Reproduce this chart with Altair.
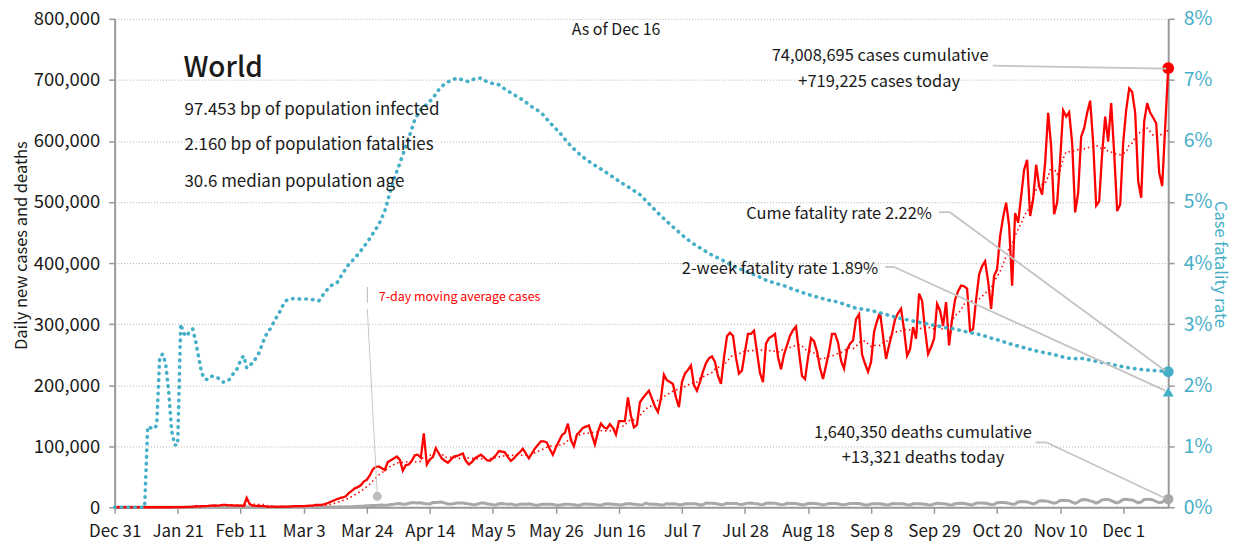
import altair as alt
import pandas as pd

FONT = "'Noto Sans CJK SC', 'Liberation Sans', sans-serif"
RED = "#ff0000"
TEAL = "#45afc8"
GRAY = "#a8a8a8"
INK = "#1a1a1a"

# ---- data (day 0 = Dec 31, 2019; day 351 = Dec 16, 2020) ----
tick_labels = ["Dec 31", "Jan 21", "Feb 11", "Mar 3", "Mar 24", "Apr 14", "May 5", "May 26",
               "Jun 16", "Jul 7", "Jul 28", "Aug 18", "Sep 8", "Sep 29", "Oct 20", "Nov 10", "Dec 1"]

cases = [
    27, 0, 0, 17, 0, 15, 0, 0, 0, 0, 0, 0, 0, 1, 1, 0, 4, 17, 136, 19, 151,
    140, 97, 266, 453, 673, 797, 1767, 1480, 1755, 2005, 2127, 2603, 2836, 2830, 3239, 3917, 3721, 3181, 3419, 2611, 2983, 2490, 2028,
    15141,
    5090, 2660, 2108, 2053, 1893, 1752, 500, 1000, 1100, 550, 900, 850, 1000, 1150, 1500, 1800, 2000, 2000, 2000, 2400, 2600, 2800, 3800, 3900, 3800,
    5200, 7000, 9000, 11000, 13000, 15000, 16000, 18000, 23000, 27000, 31000, 33000, 36000, 42000,
    45000, 52000, 62000, 66000, 67000, 64000, 61000, 74000, 77000, 80000, 83000, 78000, 60000, 69000, 70000, 76000,
    85000, 86000, 81000, 121000, 70000, 78000, 82000, 97000, 88000, 80000, 76000, 73000, 78000, 83000, 84000, 86000, 88000, 76000, 70000, 74000,
    80000, 83000, 86000, 82000, 77000, 76000, 80000, 85000, 92000, 91000, 90000, 82000, 76000, 80000, 86000, 90000, 96000, 88000, 80000, 88000,
    96000, 102000, 108000, 108000, 106000, 95000, 86000, 98000, 108000, 118000, 122000, 137000, 110000, 100000, 119000, 124000, 130000, 132000, 134000, 118000,
    103000, 123000, 137000, 131000, 129000, 136000, 130000, 119000, 141000, 141000, 141000, 180000, 150000, 131000, 135000, 172000, 179000, 185000, 191000, 178000,
    165000, 156000, 178000, 217000, 208000, 205000, 202000, 180000, 164000, 205000, 219000, 225000, 232000, 200000, 191000, 205000, 222000, 236000, 244000, 247000,
    238000, 215000, 202000, 245000, 280000, 286000, 281000, 245000, 219000, 224000, 255000, 284000, 284000, 289000, 254000, 220000, 205000, 268000, 277000, 280000,
    284000, 246000, 226000, 250000, 265000, 281000, 290000, 296000, 254000, 215000, 210000, 245000, 277000, 272000, 255000, 228000, 210000, 232000, 255000, 284000,
    284000, 270000, 240000, 227000, 258000, 268000, 273000, 308000, 316000, 250000, 235000, 222000, 238000, 287000, 305000, 319000, 280000, 243000, 265000, 285000,
    308000, 318000, 325000, 290000, 248000, 259000, 295000, 276000, 350000, 338000, 290000, 251000, 262000, 276000, 333000, 322000, 297000, 336000, 265000, 308000,
    340000, 354000, 363000, 362000, 358000, 289000, 292000, 340000, 381000, 395000, 403000, 370000, 325000, 379000, 390000, 444000, 475000, 499000, 461000, 363000,
    482000, 466000, 509000, 553000, 569000, 477000, 504000, 561000, 526000, 512000, 564000, 646000, 591000, 480000, 499000, 569000, 650000, 640000, 647000, 597000,
    483000, 515000, 607000, 621000, 646000, 666000, 597000, 494000, 501000, 580000, 640000, 599000, 662000, 580000, 485000, 496000, 597000, 651000, 686000, 680000,
    646000, 534000, 507000, 632000, 662000, 646000, 638000, 629000, 548000, 526000, 624000, 719225,
]

deaths = [
    0, 0, 0, 0, 0, 0, 0, 0, 0, 0, 0, 1, 0, 0, 0, 0, 0, 0, 0, 0, 3,
    3, 8, 9, 16, 15, 15, 24, 26, 26, 38, 43, 46, 45, 57, 64, 66, 73, 73, 86, 89, 97, 108, 97,
    254,
    121, 143, 142, 105, 98, 139, 115, 118, 109, 97, 150, 71, 52, 29, 44, 37, 58, 67, 71, 72, 85, 100, 104, 96, 228,
    200, 280, 330, 420, 390, 700, 520, 830, 970, 980, 1350, 1600, 1700, 1900,
    2400, 2500, 2700, 3000, 3400, 3500, 3400, 3400, 4500, 5000, 5900, 6100, 5000, 4800, 6500, 7200,
    7500, 6900, 7200, 6100, 5600, 5400, 7700, 7600, 8300, 8600, 6700, 5500, 5400, 5700, 7000, 6800, 6800, 6300, 5500, 4400,
    4200, 5400, 6800, 6800, 5700, 4900, 4100, 3700, 5600, 6300, 5500, 5100, 5400, 4000, 3300, 5000, 5500, 5100, 5600, 4600,
    3700, 3400, 4600, 4800, 5000, 5100, 4400, 3500, 3100, 4000, 5000, 4800, 4700, 4200, 3200, 3200, 4800, 5500, 5100, 5000,
    4300, 3700, 3400, 4900, 5600, 5400, 5000, 4600, 4100, 3600, 5200, 5600, 5600, 5000, 4500, 3900, 4300, 6800, 5100, 5000,
    4800, 4400, 3700, 4100, 5800, 5500, 5600, 5200, 4100, 4000, 5600, 5700, 5600, 5700, 5400, 3900, 4200, 7000, 6400, 6400,
    6100, 5400, 4200, 4700, 6700, 6300, 6300, 6300, 5000, 4600, 5700, 6700, 6800, 6200, 5900, 4600, 4200, 6500, 6900, 6400,
    6400, 5400, 4300, 4300, 6500, 6200, 6100, 6000, 5000, 4100, 4200, 6300, 6400, 6100, 5800, 5000, 3900, 4700, 6300, 6300,
    6000, 5700, 4500, 4000, 4900, 6300, 6100, 6200, 6000, 4900, 3800, 3700, 5500, 5700, 5700, 5600, 5000, 4100, 3800, 6000,
    5900, 5700, 5700, 5200, 4000, 3700, 5700, 5900, 5700, 5500, 5000, 4000, 3800, 5400, 6400, 6100, 5700, 5200, 4100, 3800,
    5700, 6100, 6600, 6000, 5200, 4100, 4200, 6600, 7100, 7100, 6500, 5700, 4100, 4700, 7300, 7600, 7800, 7400, 6300, 5100,
    5400, 8700, 9300, 9200, 8700, 7200, 5600, 7300, 10200, 10700, 10300, 9600, 7900, 6600, 7900, 11200, 11500, 11000, 10800, 8500,
    6400, 8500, 12000, 12700, 12100, 10400, 9300, 6800, 8800, 12100, 12800, 12800, 10700, 8600, 7200, 9300, 12700, 13000, 12400, 12000,
    9600, 7300, 8600, 12700, 12900, 13000, 11800, 9400, 7300, 8300, 12600, 13321,
]

cfr_day = [0, 2, 4, 6, 8, 10, 11, 12, 13, 14, 15, 16, 17, 18, 19, 20, 21, 22, 23, 24, 25, 26, 27, 28, 29, 30,
           31, 32, 33, 34, 35, 36, 37, 38, 39, 40, 41, 42, 43, 44, 45, 46, 47, 48, 49, 50, 51, 52, 53, 54,
           55, 56, 57, 58, 60, 62, 64, 66, 68, 70, 72, 74, 76, 78, 80, 82, 84, 86, 88, 90, 92, 94, 96, 98,
           100, 102, 104, 106, 108, 110, 112, 114, 116, 118, 120, 122, 124, 126, 128, 130, 133, 136, 139,
           142, 145, 148, 151, 154, 157, 160, 163, 166, 169, 172, 175, 178, 181, 184, 187, 190, 193, 196,
           199, 202, 205, 208, 211, 214, 217, 220, 223, 226, 229, 232, 235, 238, 241, 244, 247, 250, 253,
           256, 259, 262, 265, 268, 271, 274, 277, 280, 283, 286, 289, 292, 295, 298, 301, 304, 307, 310,
           313, 316, 319, 322, 325, 328, 331, 334, 337, 340, 343, 346, 349, 351]
cfr_pct = [0, 0, 0, 0, 0, 0, 1.32, 1.30, 1.28, 1.34, 2.46, 2.51, 2.35, 1.90, 1.25, 1.02, 1.02, 3.00, 2.85, 2.80, 2.88, 2.92, 2.72, 2.45, 2.20, 2.10,
           2.09, 2.14, 2.15, 2.13, 2.10, 2.05, 2.05, 2.08, 2.15, 2.22, 2.28, 2.42, 2.48, 2.28, 2.33, 2.36, 2.44, 2.52, 2.65, 2.78, 2.87, 2.93, 3.03, 3.12,
           3.20, 3.30, 3.38, 3.41, 3.42, 3.41, 3.41, 3.40, 3.38, 3.52, 3.63, 3.67, 3.83, 3.98, 4.08, 4.20, 4.33, 4.48, 4.63, 4.85, 5.20, 5.50, 5.77, 6.05,
           6.35, 6.52, 6.60, 6.70, 6.84, 6.94, 6.99, 7.03, 7.00, 6.97, 7.02, 7.03, 6.97, 6.94, 6.92, 6.85, 6.76, 6.67, 6.56,
           6.47, 6.30, 6.15, 5.97, 5.82, 5.70, 5.60, 5.51, 5.41, 5.31, 5.22, 5.12, 4.97, 4.82, 4.68, 4.55, 4.42, 4.31, 4.22,
           4.13, 4.06, 3.98, 3.91, 3.85, 3.79, 3.72, 3.67, 3.63, 3.57, 3.52, 3.47, 3.43, 3.39, 3.36, 3.31, 3.26, 3.24, 3.21,
           3.17, 3.13, 3.09, 3.06, 3.03, 3.00, 2.97, 2.94, 2.92, 2.88, 2.85, 2.82, 2.77, 2.73, 2.68, 2.64, 2.60, 2.56, 2.53,
           2.50, 2.46, 2.43, 2.44, 2.41, 2.38, 2.35, 2.32, 2.29, 2.27, 2.25, 2.24, 2.23, 2.22]

last_day = 351
two_week_cfr = 1.89

df = pd.DataFrame({"day": list(range(len(cases))), "cases": cases, "deaths": deaths})
cfr_df = pd.DataFrame({"day": cfr_day, "cfr": cfr_pct})
tw_df = pd.DataFrame({"day": [last_day], "cfr": [two_week_cfr]})

label_expr = "[" + ",".join(f"'{l}'" for l in tick_labels) + "][round(datum.value/21)]"

x_enc = alt.X("day:Q", scale=alt.Scale(domain=[0, last_day], nice=False, zero=False),
              axis=alt.Axis(values=list(range(0, 337, 21)), labelExpr=label_expr, title=None, grid=False,
                            labelFontSize=17, labelColor=INK, labelPadding=10, tickSize=6, labelOverlap=False,
                            labelFlush=False, labelFont=FONT,
                            domainColor="#999999", domainWidth=2, tickColor="#999999", tickWidth=1.5))

left_scale = alt.Scale(domain=[0, 800000], nice=False)
left_axis = alt.Axis(values=list(range(0, 800001, 100000)), format=",d", title="Daily new cases and deaths",
                     titleFontSize=16.5, titleFontWeight="normal", titleColor=INK,
                     titleX=-93, titleY=227, titleAngle=270, titleAlign="center", titleBaseline="middle",
                     labelFontSize=18.5, labelColor=INK, labelPadding=9, tickSize=6, labelFont=FONT, titleFont=FONT,
                     grid=True, gridDash=[1, 2], gridColor="#b0b0b0", gridWidth=1,
                     domainColor="#999999", domainWidth=2, tickColor="#999999", tickWidth=1.5)
right_scale = alt.Scale(domain=[0, 8], nice=False)
right_axis = alt.Axis(values=list(range(0, 9)), labelExpr="datum.value + '%'", orient="right",
                      title="Case fatality rate", titleFontSize=16.5, titleFontWeight="normal", titleColor=TEAL,
                      titleX=51, titleY=246, titleAngle=90, titleAlign="center", titleBaseline="middle",
                      labelFontSize=19.5, labelColor=TEAL, labelPadding=9, tickSize=6, grid=False,
                      labelFont=FONT, titleFont=FONT,
                      domainColor="#999999", domainWidth=2, tickColor="#999999", tickWidth=1.5)

base = alt.Chart(df)

deaths_line = base.mark_line(color=GRAY, strokeWidth=3).encode(
    x=x_enc, y=alt.Y("deaths:Q", scale=left_scale, axis=left_axis))
cases_line = base.mark_line(color=RED, strokeWidth=2.3).encode(
    x=x_enc, y=alt.Y("cases:Q", scale=left_scale, axis=left_axis))
ma_line = base.transform_window(ma="mean(cases)", frame=[-6, 0], sort=[{"field": "day"}]).mark_line(
    color=RED, strokeWidth=1.6, strokeDash=[1.5, 3]).encode(
    x=x_enc, y=alt.Y("ma:Q", scale=left_scale, axis=left_axis))
cases_pt = base.transform_filter(f"datum.day == {last_day}").mark_point(
    filled=True, size=140, color=RED, opacity=1).encode(x=x_enc, y=alt.Y("cases:Q", scale=left_scale, axis=left_axis))
deaths_pt = base.transform_filter(f"datum.day == {last_day}").mark_point(
    filled=True, size=110, color=GRAY, opacity=1).encode(x=x_enc, y=alt.Y("deaths:Q", scale=left_scale, axis=left_axis))

left = alt.layer(deaths_line, cases_line, ma_line, cases_pt, deaths_pt)

cfr_line = alt.Chart(cfr_df).mark_line(color=TEAL, strokeWidth=3.6, strokeDash=[0.5, 6.2], strokeCap="round").encode(
    x=x_enc, y=alt.Y("cfr:Q", scale=right_scale, axis=right_axis))
cfr_pt = alt.Chart(cfr_df).transform_filter(f"datum.day == {last_day}").mark_point(
    filled=True, size=120, color=TEAL, opacity=1).encode(x=x_enc, y=alt.Y("cfr:Q", scale=right_scale, axis=right_axis))
tw_pt = alt.Chart(tw_df).mark_point(filled=True, shape="triangle-up", size=120, color=TEAL, opacity=1).encode(
    x=x_enc, y=alt.Y("cfr:Q", scale=right_scale, axis=right_axis))

right = alt.layer(cfr_line, cfr_pt, tw_pt)

# ---- annotations (pixel positions inside the plot area) ----
OX, OY = 115, 18  # plot origin in page pixels


def txt(s, x, y, size=16.5, align="left", color=INK, weight="normal"):
    return alt.Chart(pd.DataFrame({"t": [s]})).mark_text(
        align=align, baseline="alphabetic", fontSize=size, color=color, fontWeight=weight, font=FONT
    ).encode(text="t:N", x=alt.value(x - OX), y=alt.value(y - OY))


def seg(x1, y1, x2, y2, color="#c4c4c4", w=1.8):
    return alt.Chart(pd.DataFrame({"a": [0]})).mark_rule(color=color, strokeWidth=w).encode(
        x=alt.value(x1 - OX), y=alt.value(y1 - OY), x2=alt.value(x2 - OX), y2=alt.value(y2 - OY))


world_name = "World"
info_lines = ["97.453 bp of population infected", "2.160 bp of population fatalities", "30.6 median population age"]

ann = [
    txt(world_name, 184, 76, size=28, weight=500),
    txt(info_lines[0], 185, 114, size=17),
    txt(info_lines[1], 185, 150, size=17),
    txt(info_lines[2], 185, 187, size=17),
    txt("As of Dec 16", 618, 34, size=16, align="center"),
    txt("74,008,695 cases cumulative", 883, 60, align="center"),
    txt("+719,225 cases today", 882, 86, align="center"),
    txt("Cume fatality rate 2.22%", 935, 219, align="right"),
    txt("2-week fatality rate 1.89%", 881, 274, align="right"),
    txt("1,640,350 deaths cumulative", 926, 439, align="center"),
    txt("+13,321 deaths today", 926, 464, align="center"),
    txt("7-day moving average cases", 380, 301, size=12.5, color=RED),
    seg(996, 65, 1170, 68),
    seg(942, 212, 953, 212), seg(953, 212, 1169, 371),
    seg(888, 267, 897, 267), seg(897, 267, 1169, 391),
    seg(1039, 443, 1050, 443), seg(1050, 443, 1169, 499),
    seg(368.5, 287, 368.5, 303, color="#b8b8b8", w=1),
    seg(368.5, 309, 378.5, 496, color="#c8c8c8", w=1),
    alt.Chart(pd.DataFrame({"a": [0]})).mark_point(filled=True, size=80, color="#bdbdbd", opacity=1).encode(
        x=alt.value(378.5 - OX), y=alt.value(497 - OY)),
]

chart = alt.layer(left, right, *ann).resolve_scale(y="independent").properties(
    width=1057, height=490,
    autosize=alt.AutoSizeParams(type="none"),
    padding={"left": 107, "top": 10, "right": 64, "bottom": 38},
).configure(font=FONT).configure_view(stroke=None).configure_axis(labelFont=FONT, titleFont=FONT)

chart.save("out.html", embed_options={"renderer": "svg", "actions": False})
